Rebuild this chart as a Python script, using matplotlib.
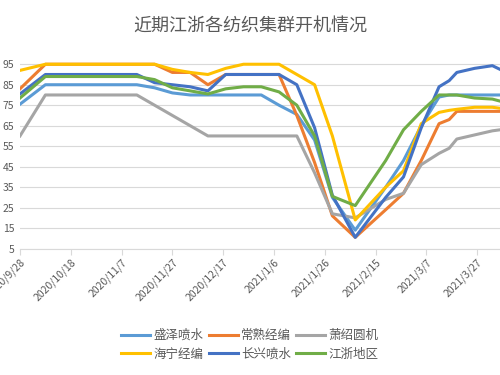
import matplotlib
matplotlib.use('Agg')
import matplotlib.pyplot as plt
import pandas as pd

plt.rcParams['font.family'] = ['Noto Sans CJK SC', 'DejaVu Sans']

# ---- data ----
dates = ['2020-09-28', '2020-10-08', '2020-11-13', '2020-11-20', '2020-11-27',
         '2020-12-04', '2020-12-11', '2020-12-18', '2020-12-25', '2021-01-01',
         '2021-01-08', '2021-01-15', '2021-01-22', '2021-01-29', '2021-02-07',
         '2021-02-19', '2021-02-26', '2021-03-05', '2021-03-12', '2021-03-16',
         '2021-03-19', '2021-03-26', '2021-04-02', '2021-04-05']

shengze  = [75.5, 85, 85, 83.5, 81, 80, 80, 80, 80, 80, 75, 70.5, 58, 30, 14,
            35, 48, 65, 79, 80, 80, 80, 80, 80]
changshu = [83, 95, 95, 95, 91, 91, 85, 90, 90, 90, 90, 70, 47, 21, 10.5,
            24, 32, 48, 66, 68, 72, 72, 72, 72]
xiaoshao = [60, 80, 80, 75, 70, 65, 60, 60, 60, 60, 60, 60, 42, 22, 20,
            29, 32, 46, 51.5, 54, 58.5, 60.5, 62.5, 63]
haining  = [92, 95, 95, 95, 92.5, 91, 90, 93, 95, 95, 95, 90, 85, 60, 19,
            35, 43, 66, 71.5, 72.5, 73, 74, 74, 73.5]
changxing = [80.5, 90, 90, 86, 85, 84, 82, 90, 90, 90, 90, 85, 64, 31, 10.5,
             30, 40, 64, 84, 87, 91, 93, 94.3, 92.5]
jiangzhe = [78.5, 89, 89, 87.5, 83.5, 82, 80.5, 83, 84, 84, 81.5, 75, 60, 30.5, 26,
            48, 63, 72, 80, 80, 80, 78.5, 78, 77]

names = ['盛泽喷水', '常熟经编', '萧绍圆机', '海宁经编', '长兴喷水', '江浙地区']
series = [shengze, changshu, xiaoshao, haining, changxing, jiangzhe]
colors = ['#5B9BD5', '#ED7D31', '#A5A5A5', '#FFC000', '#4472C4', '#70AD47']

x = pd.to_datetime(dates)
tick_dates = pd.date_range('2020-09-28', periods=10, freq='20D')

fig = plt.figure(figsize=(5, 3.75), dpi=100)
ax = fig.add_axes([0.04, 0.337, 0.96, 0.519])

lines = []
for name, vals, c in zip(names, series, colors):
    ln, = ax.plot(x, vals, color=c, linewidth=2.2, label=name, solid_joinstyle='round')
    lines.append(ln)

ax.set_ylim(5, 100)
ax.set_yticks(range(5, 100, 10))
ax.set_xlim(pd.Timestamp('2020-09-28'), pd.Timestamp('2021-04-05'))
ax.set_xticks(tick_dates)
ax.set_xticklabels([f'{d.year}/{d.month}/{d.day}' for d in tick_dates],
                   rotation=45, ha='right', rotation_mode='anchor')

ax.grid(axis='y', color='#D9D9D9', linewidth=0.8)
ax.set_axisbelow(True)
for s in ['top', 'right', 'left']:
    ax.spines[s].set_visible(False)
ax.spines['bottom'].set_color('#D9D9D9')
ax.tick_params(axis='y', length=0, labelsize=7.5, labelcolor='#595959', pad=4)
ax.tick_params(axis='x', length=4, color='#D9D9D9', labelsize=7.5,
               labelcolor='#595959', pad=2)

fig.text(0.5, 0.932, '近期江浙各纺织集群开机情况', ha='center', va='center',
         fontsize=13, color='#595959')

# legend filled column-wise, so reorder to get rows like the reference
order = [0, 3, 1, 4, 2, 5]
ax.legend([lines[i] for i in order], [names[i] for i in order],
          loc='upper center', bbox_to_anchor=(0.5 - 0.04 / 0.96 * 0.5, -0.355),
          ncol=3, frameon=False, fontsize=9, handlelength=2.3,
          columnspacing=0.4, handletextpad=0.3, labelspacing=0.45,
          labelcolor='#595959')

fig.savefig('out.png', dpi=100)
